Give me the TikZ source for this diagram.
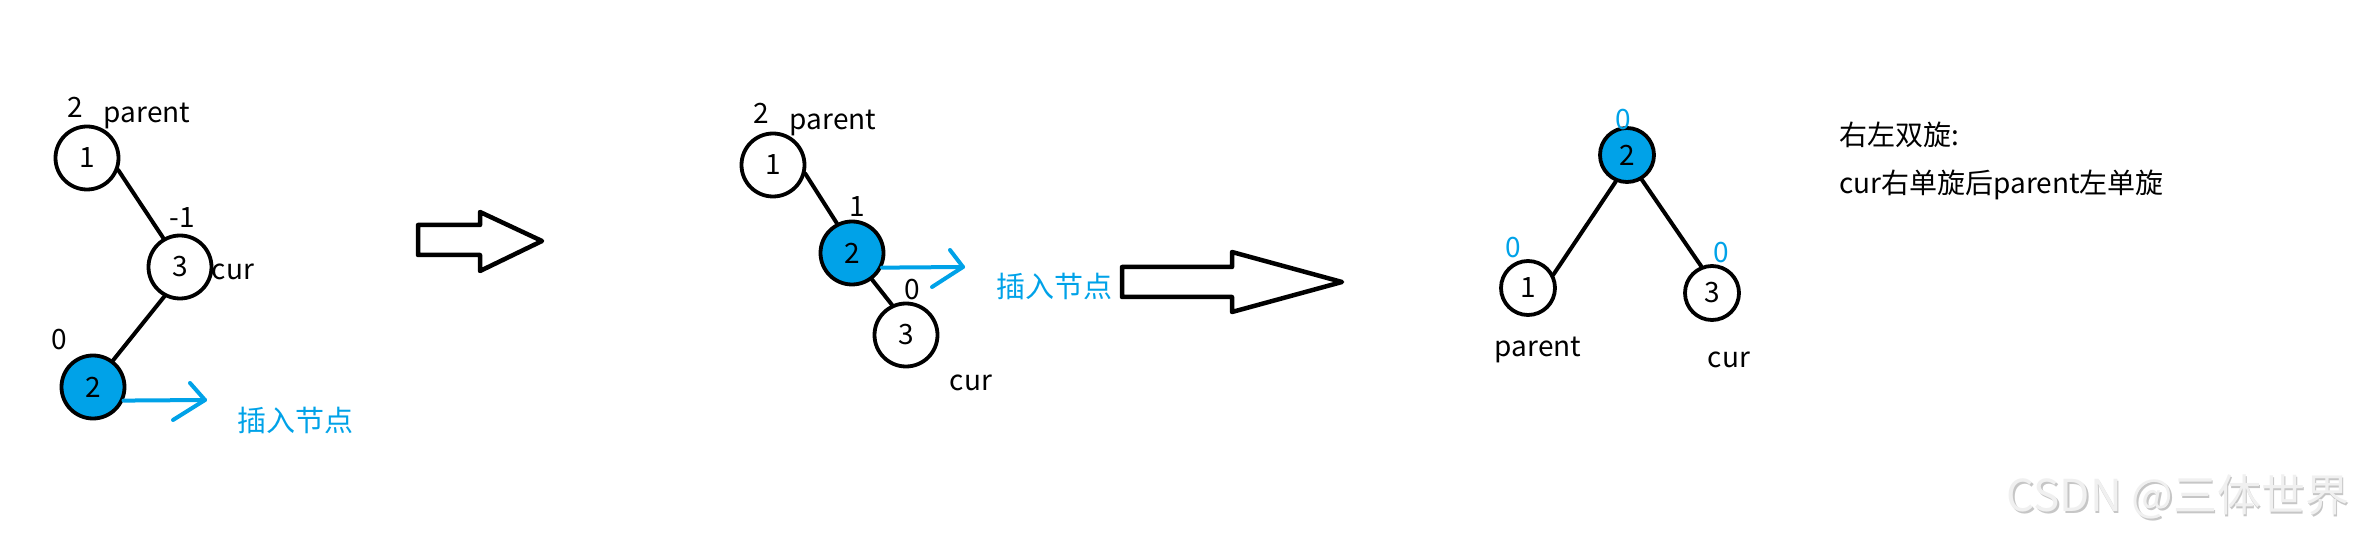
\documentclass[tikz,border=0pt]{standalone}
\usepackage{fontspec}
\setmainfont{Noto Sans CJK SC}
\definecolor{ablue}{RGB}{0,162,232}
\begin{document}
\begin{tikzpicture}[x=1pt,y=-1pt,
  tnode/.style={circle,draw,line width=3.8pt,minimum size=63pt,inner sep=0pt,font=\fontsize{28}{28}\selectfont},
  snode/.style={tnode,minimum size=54pt},
  filled/.style={fill=ablue},
  edge/.style={line width=4pt,line cap=round},
  bf/.style={font=\fontsize{28}{28}\selectfont,inner sep=0pt},
  word/.style={font=\fontsize{28}{28}\selectfont,inner sep=0pt},
  bluenum/.style={bf,text=ablue},
  bluelabel/.style={font=\fontsize{29}{29}\selectfont,inner sep=0pt,text=ablue},
  bluearrow/.style={line width=4pt,draw=ablue,line cap=round,line join=round},
  hollow/.style={line width=4.5pt,line join=round,fill=white},
  note/.style={font=\fontsize{28}{28}\selectfont,inner sep=0pt,anchor=west}]
\useasboundingbox (0,0) rectangle (2362,534);
% ---------- panel 1 ----------
\node[tnode] (a1) at (87,158) {1};
\node[tnode] (a3) at (180,267) {3};
\node[tnode,filled] (a2) at (93,387) {2};
\draw[edge] (a1.-21) -- (a3.120);
\draw[edge] (a3.-118) -- (a2.53);
\node[bf] (a1b) at (75,107) {2};
\node[word] (a1n) at (147,116) {parent};
\node[bf] (a3b) at (182,218) {-1};
\node[word] (a3n) at (233,272) {cur};
\node[bf] (a2b) at (59,340) {0};
\coordinate (at) at (205,400);
\draw[bluearrow] (a2.-24) -- (at);
\draw[bluearrow] (190,383) -- (at) -- (173,420);
\node[bluelabel] (al) at (295,420) {插入节点};
% ---------- arrow 1 ----------
\draw[hollow] (418,225) -- (480,225) -- (480,212) -- (542,241) -- (480,271) -- (480,255) -- (418,255) -- cycle;
% ---------- panel 2 ----------
\node[tnode] (b1) at (773,165) {1};
\node[tnode,filled] (b2) at (852,253) {2};
\node[tnode] (b3) at (906,335) {3};
\draw[edge] (b1.-15) -- (b2.117);
\draw[edge] (b2.-53) -- (b3.115);
\node[bf] (b1b) at (761,113) {2};
\node[word] (b1n) at (833,123) {parent};
\node[bf] (b2b) at (857,207) {1};
\node[bf] (b3b) at (912,290) {0};
\node[word] (b3n) at (971,383) {cur};
\coordinate (bt) at (963,267);
\draw[bluearrow] (b2.-26) -- (bt);
\draw[bluearrow] (950,250) -- (bt) -- (932,287);
\node[bluelabel] (bl) at (1054,286) {插入节点};
% ---------- arrow 2 ----------
\draw[hollow] (1122,267) -- (1232,267) -- (1232,252) -- (1342,282) -- (1232,312) -- (1232,297) -- (1122,297) -- cycle;
% ---------- panel 3 ----------
\node[snode,filled] (c2) at (1627,155) {\raisebox{-5pt}{2}};
\node[snode] (c1) at (1528,288) {1};
\node[snode] (c3) at (1712,293) {\raisebox{-4pt}{3}};
\draw[edge] (c2.-113) -- (c1.28);
\draw[edge] (c2.-59) -- (c3.112);
\node[bluenum] (c2b) at (1623,120) {0};
\node[bluenum] (c1b) at (1513,248) {0};
\node[bluenum] (c3b) at (1721,253) {0};
\node[word] (c1n) at (1538,350) {parent};
\node[word] (c3n) at (1729,360) {cur};
\node[note] (t1) at (1839,135) {右左双旋:};
\node[note] (t2) at (1839,185) {cur右单旋后parent左单旋};
% ---------- watermark ----------
\node[font=\fontsize{44}{44}\selectfont,inner sep=0pt,text=gray!45] (wms) at (2179.5,498.5) {CSDN @三体世界};
\node[font=\fontsize{44}{44}\selectfont,inner sep=0pt,text=gray!12] (wm) at (2178,497) {CSDN @三体世界};
\end{tikzpicture}
\end{document}
